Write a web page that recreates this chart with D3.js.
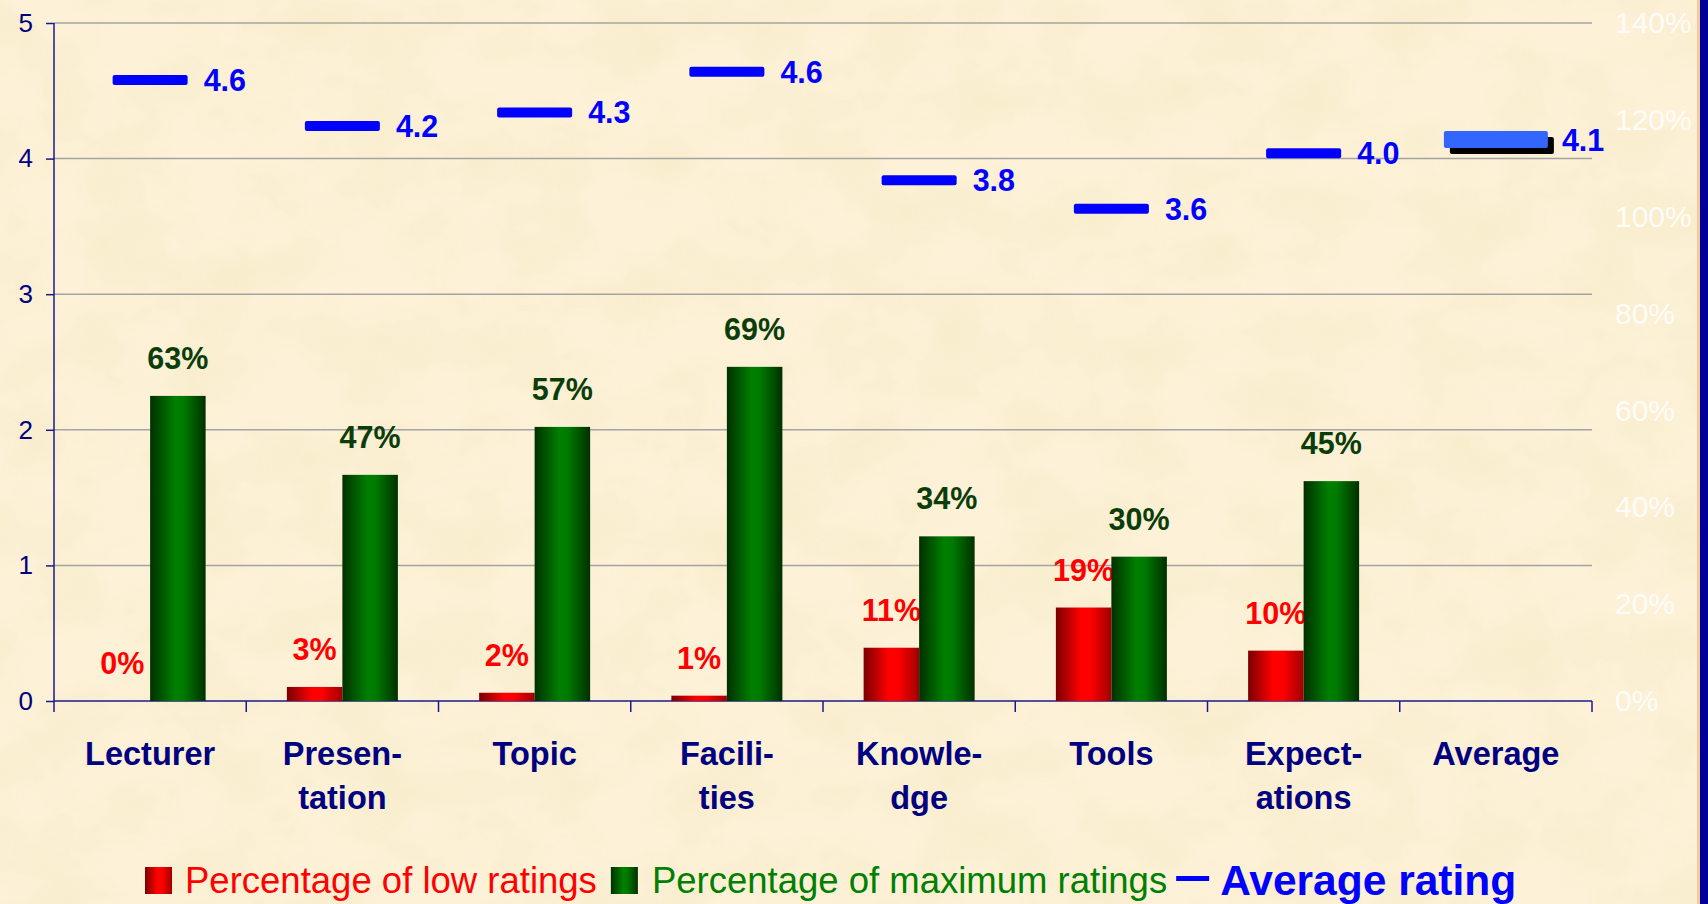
<!DOCTYPE html>
<html>
<head>
<meta charset="utf-8">
<script src="https://cdn.jsdelivr.net/npm/d3@7"></script>
<style>
  html, body { margin: 0; padding: 0; background: #fcefd2; overflow: hidden; }
  svg { display: block; font-family: Arial, "Liberation Sans", sans-serif; }
</style>
</head>
<body>
<svg id="chart" width="1708" height="904"></svg>
<script>
// ---------- data ----------
const categories = ["Lecturer", "Presentation", "Topic", "Facilities", "Knowledge", "Tools", "Expectations", "Average"];
const categoryLines = [["Lecturer"], ["Presen-", "tation"], ["Topic"], ["Facili-", "ties"], ["Knowle-", "dge"], ["Tools"], ["Expect-", "ations"], ["Average"]];
const lowRatings = [0, 2.9, 1.7, 1.1, 11.0, 19.3, 10.4, null];      // percent
const maxRatings = [63.0, 46.7, 56.6, 69.0, 34.0, 29.8, 45.4, null]; // percent
const avgRating  = [4.58, 4.24, 4.34, 4.64, 3.84, 3.63, 4.04, 4.14];
const leftTicks  = [0, 1, 2, 3, 4, 5];
const rightTicks = [0, 20, 40, 60, 80, 100, 120, 140];
const legendLabels = ["Percentage of low ratings", "Percentage of maximum ratings", "Average rating"];

// ---------- layout ----------
const svg = d3.select("#chart");
const W = 1708, H = 904;
const plot = { left: 54, right: 1592, top: 23, bottom: 701 };
const FONT = "Arial, 'Liberation Sans', sans-serif";

// background
const defs = svg.append("defs");
const f = defs.append("filter").attr("id", "paper").attr("x", 0).attr("y", 0).attr("width", 1).attr("height", 1);
f.append("feTurbulence").attr("type", "fractalNoise").attr("baseFrequency", "0.012 0.016").attr("numOctaves", 4).attr("seed", 7).attr("result", "n");
f.append("feColorMatrix").attr("in", "n").attr("type", "matrix")
  .attr("values", "0 0 0 0 0.88  0 0 0 0 0.80  0 0 0 0 0.50  0 0 0 -1.6 1.05");
svg.append("rect").attr("width", W).attr("height", H).attr("fill", "#fdf1d8");
svg.append("rect").attr("width", W).attr("height", H).attr("filter", "url(#paper)").attr("opacity", 0.5);
// right border
svg.append("rect").attr("x", 1697).attr("y", 0).attr("width", 3).attr("height", H).attr("fill", "#f7c89a");
svg.append("rect").attr("x", 1700).attr("y", 0).attr("width", 8).attr("height", H).attr("fill", "#000099");

// gradients
function hGrad(id, stops) {
  const g = defs.append("linearGradient").attr("id", id).attr("x1", 0).attr("x2", 1).attr("y1", 0).attr("y2", 0);
  stops.forEach(s => g.append("stop").attr("offset", s[0]).attr("stop-color", s[1]));
}
hGrad("gRed", [[0, "#7a0000"], [0.45, "#ff0000"], [0.62, "#ff0000"], [1, "#a00000"]]);
hGrad("gGreen", [[0, "#003000"], [0.45, "#008000"], [0.6, "#007a00"], [1, "#003000"]]);

// scales
const x = d3.scaleBand().domain(categories).range([plot.left, plot.right]).paddingInner(0).paddingOuter(0);
const xs = d3.scaleBand().domain(["low", "max"]).range([0, x.bandwidth()]).paddingInner(0).paddingOuter(0.732);
const yL = d3.scaleLinear().domain([0, 5]).range([plot.bottom, plot.top]);
const yR = d3.scaleLinear().domain([0, 140]).range([plot.bottom, plot.top]);

// gridlines
svg.append("g").selectAll("line").data(leftTicks.filter(t => t > 0)).join("line")
  .attr("x1", plot.left).attr("x2", plot.right)
  .attr("y1", d => yL(d)).attr("y2", d => yL(d))
  .attr("stroke", "#a4a4a4").attr("stroke-width", 1.5);

// left axis
const axL = svg.append("g").attr("transform", `translate(${plot.left},0)`)
  .call(d3.axisLeft(yL).tickValues(leftTicks).tickFormat(d3.format("d")).tickSize(8).tickPadding(13));
axL.attr("font-size", 26).attr("font-family", FONT);
axL.select(".domain").attr("stroke", "#1a1a8c").attr("stroke-width", 1.5)
  .attr("d", `M-0,${plot.top}V${plot.bottom + 11}`);
axL.selectAll(".tick line").attr("stroke", "#1a1a8c").attr("stroke-width", 1.5);
axL.selectAll(".tick text").attr("fill", "#000080").style("font-size", "26px");

// right axis (labels only, faint white)
const axR = svg.append("g").attr("transform", `translate(${plot.right},0)`)
  .call(d3.axisRight(yR).tickValues(rightTicks).tickFormat(d => d + "%").tickSize(0).tickPadding(23));
axR.attr("font-size", 30).attr("font-family", FONT);
axR.select(".domain").remove();
axR.selectAll(".tick text").attr("fill", "#ffffff").attr("fill-opacity", 0.85).style("font-size", "30px");

// bottom axis
const axB = svg.append("g").attr("transform", `translate(0,${plot.bottom})`)
  .call(d3.axisBottom(x).tickValues([]).tickSize(0));
axB.select(".domain").attr("stroke", "#1a1a8c").attr("stroke-width", 1.5).attr("d", `M${plot.left},0H${plot.right}`);
svg.append("g").selectAll("line").data(categories).join("line")
  .attr("x1", d => x(d) + x.bandwidth()).attr("x2", d => x(d) + x.bandwidth())
  .attr("y1", plot.bottom).attr("y2", plot.bottom + 11)
  .attr("stroke", "#1a1a8c").attr("stroke-width", 1.5);

// category labels
const catG = svg.append("g");
categories.forEach((c, i) => {
  const t = catG.append("text").attr("x", x(c) + x.bandwidth() / 2).attr("y", 765)
    .attr("text-anchor", "middle").attr("font-size", 32.5).attr("font-weight", "bold").attr("fill", "#000080");
  categoryLines[i].forEach((ln, j) => t.append("tspan").attr("x", x(c) + x.bandwidth() / 2).attr("y", 765 + j * 44).text(ln));
});

// bars
const fmtPct = v => d3.format(".0f")(v) + "%";
const barsG = svg.append("g");
categories.forEach((c, i) => {
  [["low", lowRatings[i], "url(#gRed)", "#ff0000"], ["max", maxRatings[i], "url(#gGreen)", "#0b3d0b"]].forEach(([k, v, fill, lc]) => {
    if (v === null) return;
    const bx = x(c) + xs(k);
    if (v > 0) {
      barsG.append("rect").attr("x", bx).attr("width", xs.bandwidth())
        .attr("y", yR(v)).attr("height", yR(0) - yR(v)).attr("fill", fill);
    }
    barsG.append("text").attr("x", bx + xs.bandwidth() / 2).attr("y", yR(v) - 27)
      .attr("text-anchor", "middle").attr("font-size", 30.5).attr("font-weight", "bold")
      .attr("fill", lc).text(fmtPct(v));
  });
});

// average rating dashes
const avgG = svg.append("g");
categories.forEach((c, i) => {
  const v = avgRating[i];
  const cx = x(c) + x.bandwidth() / 2;
  const isAvg = c === "Average";
  const w = isAvg ? 104 : 75, h = isAvg ? 17 : 10;
  if (isAvg) {
    avgG.append("rect").attr("x", cx - w / 2 + 6).attr("y", yL(v) - h / 2 + 6).attr("width", w).attr("height", h)
      .attr("rx", 2).attr("fill", "#000000");
  }
  avgG.append("rect").attr("x", cx - w / 2).attr("y", yL(v) - h / 2).attr("width", w).attr("height", h)
    .attr("rx", 2).attr("fill", isAvg ? "#3366ff" : "#0000ff");
  avgG.append("text").attr("x", cx + w / 2 + (isAvg ? 14 : 16)).attr("y", yL(v) + 11)
    .attr("font-size", 30.5).attr("font-weight", "bold").attr("fill", "#0000ff")
    .text(d3.format(".1f")(v));
});

// legend
const lg = svg.append("g");
let lx = 145;
const base = 893;
lg.append("rect").attr("x", lx).attr("y", 867).attr("width", 27).attr("height", 27).attr("fill", "url(#gRed)");
lx += 40;
let t1 = lg.append("text").attr("x", lx).attr("y", base).attr("font-size", 36.5).attr("fill", "#ff0000").text(legendLabels[0]);
lx += t1.node().getComputedTextLength() + 14;
lg.append("rect").attr("x", lx).attr("y", 867).attr("width", 27).attr("height", 27).attr("fill", "url(#gGreen)");
lx += 41;
let t2 = lg.append("text").attr("x", lx).attr("y", base).attr("font-size", 36.5).attr("fill", "#008000").text(legendLabels[1]);
lx += t2.node().getComputedTextLength() + 9;
lg.append("rect").attr("x", lx).attr("y", 876).attr("width", 33).attr("height", 5).attr("fill", "#0000ff");
lx += 44;
lg.append("text").attr("x", lx).attr("y", base + 2).attr("font-size", 42.5).attr("font-weight", "bold").attr("fill", "#0000ff").text(legendLabels[2]);
</script>
</body>
</html>
